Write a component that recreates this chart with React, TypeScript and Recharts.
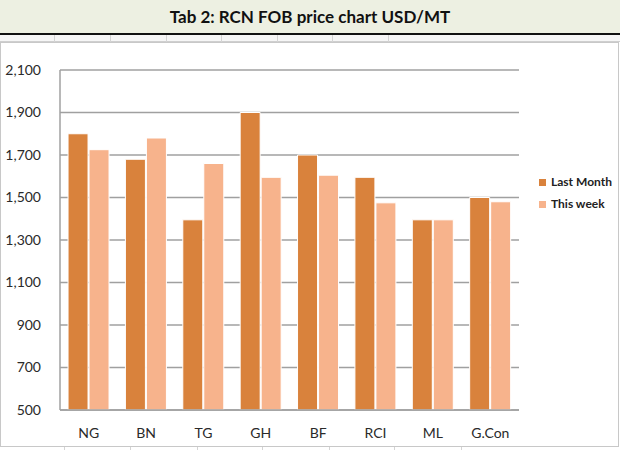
import React from 'react';
import { BarChart, Bar, XAxis, YAxis, CartesianGrid } from 'recharts';

const countries = ['NG', 'BN', 'TG', 'GH', 'BF', 'RCI', 'ML', 'G.Con'];
const lastMonth = [1800, 1680, 1395, 1900, 1700, 1595, 1395, 1500];
const thisWeek = [1725, 1780, 1660, 1595, 1605, 1475, 1395, 1480];
const yTicks = [500, 700, 900, 1100, 1300, 1500, 1700, 1900, 2100];
const seriesNames = ['Last Month', 'This week'];

const data = countries.map((c, i) => ({ name: c, last: lastMonth[i], week: thisWeek[i] }));

const DARK = '#d9823c';
const LIGHT = '#f7b38c';
const FONT = 'Lato, "Open Sans", sans-serif';

// spreadsheet cell separators above and below the chart
const topCells = [54, 110, 166, 221, 277, 332, 388];
const bottomCells = [64, 130, 197, 262, 329, 394, 461];

export default function App() {
  return (
    <div style={{ position: 'absolute', left: 0, top: 0, width: 620, height: 450, background: '#fff', fontFamily: FONT, overflow: 'hidden' }}>
      {/* title strip */}
      <div style={{ position: 'absolute', left: 0, top: 0, width: 620, height: 33, background: '#edf0e2', textAlign: 'center', lineHeight: '34px', fontWeight: 700, fontSize: 17, color: '#111' }}>
        Tab 2: RCN FOB price chart USD/MT
      </div>
      <div style={{ position: 'absolute', left: 0, top: 33, width: 620, height: 2, background: '#111' }} />
      <div style={{ position: 'absolute', left: 0, top: 35, width: 620, height: 6, background: '#f6f6f6', borderBottom: '1px solid #cfcfcf' }} />
      {topCells.map((x) => (
        <div key={'t' + x} style={{ position: 'absolute', left: x, top: 35, width: 1, height: 7, background: '#d4d4d4' }} />
      ))}
      {bottomCells.map((x) => (
        <div key={'b' + x} style={{ position: 'absolute', left: x, top: 446, width: 1, height: 4, background: '#d4d4d4' }} />
      ))}

      {/* chart box */}
      <div style={{ position: 'absolute', left: 0, top: 42, width: 617, height: 403, border: '1px solid #c8c8c8', background: '#fff' }}>
        <BarChart
          width={618}
          height={404}
          data={data}
          margin={{ top: 27, right: 100, bottom: 0, left: 0 }}
          barCategoryGap="14%"
          barGap={1}
        >
          <CartesianGrid vertical={false} stroke="#a0a0a0" strokeWidth={1.5} />
          <XAxis
            dataKey="name"
            height={37}
            axisLine={{ stroke: '#a0a0a0', strokeWidth: 1.5 }}
            tickLine={false}
            tick={{ fill: '#2a2a2a', fontSize: 14, fontFamily: FONT }}
            tickMargin={12}
          />
          <YAxis
            width={59}
            domain={[500, 2100]}
            ticks={yTicks}
            allowDataOverflow
            axisLine={{ stroke: '#a0a0a0', strokeWidth: 1.5 }}
            tickLine={false}
            tick={{ fill: '#2a2a2a', fontSize: 14, fontFamily: FONT }}
            tickMargin={13}
            tickFormatter={(v: number) => v.toLocaleString('en-US')}
          />
          <Bar dataKey="last" name={seriesNames[0]} fill={DARK} stroke="#fff" strokeWidth={1} isAnimationActive={false} />
          <Bar dataKey="week" name={seriesNames[1]} fill={LIGHT} stroke="#fff" strokeWidth={1} isAnimationActive={false} />
        </BarChart>
      </div>

      {/* legend */}
      <div style={{ position: 'absolute', left: 539, top: 171, fontSize: 12, fontWeight: 700, color: '#222', lineHeight: '22px' }}>
        {seriesNames.map((n, i) => (
          <div key={n} style={{ display: 'flex', alignItems: 'center' }}>
            <span style={{ display: 'inline-block', width: 7, height: 7, background: i === 0 ? DARK : LIGHT, marginRight: 5 }} />
            {n}
          </div>
        ))}
      </div>
    </div>
  );
}
